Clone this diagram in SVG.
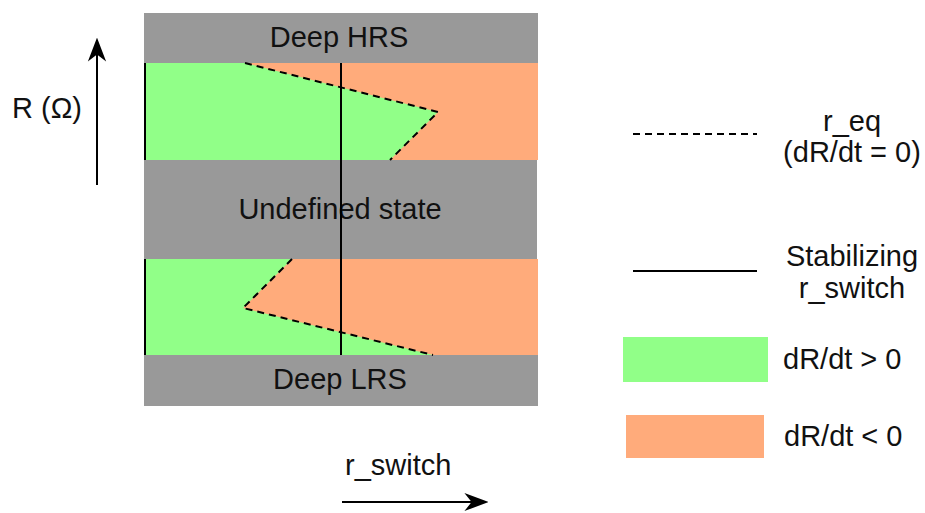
<svg xmlns="http://www.w3.org/2000/svg" width="925" height="513" viewBox="0 0 925 513">
  <defs>
    <style>
      .lbl { font-family: "Liberation Sans", Arial, sans-serif; font-size: 29px; fill: #111111; }
      .mid { text-anchor: middle; }
      .band { fill: #999999; }
      .up { fill: #91ff88; }
      .down { fill: #ffab7b; }
      .eq { fill: none; stroke: #000000; stroke-width: 2; stroke-dasharray: 7 5; }
      .sw { fill: none; stroke: #000000; stroke-width: 2; }
    </style>
    <marker id="head" viewBox="0 0 10 10" refX="9" refY="5" markerWidth="12" markerHeight="12" markerUnits="strokeWidth" orient="auto">
      <path d="M0,1.2 L10,5 L0,8.8 L3,5 Z" fill="#000000"/>
    </marker>
  </defs>

  <rect width="925" height="513" fill="#ffffff"/>

  <!-- state map -->
  <g id="upper-region">
    <rect x="144" y="63" width="394" height="97" class="down"/>
    <polygon points="144,63 245,63 438,112 390,160 144,160" class="up"/>
  </g>
  <g id="lower-region">
    <rect x="144" y="259" width="394" height="96" class="down"/>
    <polygon points="144,259 292,259 243,308 433,355 144,355" class="up"/>
  </g>
  <g id="deep-hrs">
    <rect x="144" y="13" width="394" height="50" class="band"/>
    <text x="339" y="47" class="lbl mid">Deep HRS</text>
  </g>
  <g id="undefined-state">
    <rect x="144" y="160" width="393" height="99" class="band"/>
    <text x="340" y="219" class="lbl mid">Undefined state</text>
  </g>
  <g id="deep-lrs">
    <rect x="144" y="355" width="394" height="51" class="band"/>
    <text x="340" y="389" class="lbl mid">Deep LRS</text>
  </g>

  <!-- equilibrium curves and switch lines -->
  <g id="connectors">
    <polyline points="245,63 438,112 390,160" class="eq"/>
    <polyline points="292,259 243,308 433,355" class="eq"/>
    <line x1="145" y1="63" x2="145" y2="160" class="sw"/>
    <line x1="145" y1="259" x2="145" y2="355" class="sw"/>
    <line x1="341" y1="63" x2="341" y2="355" class="sw"/>
    <line x1="97" y1="185" x2="97" y2="40" class="sw" marker-end="url(#head)"/>
    <line x1="342" y1="502" x2="486" y2="502" class="sw" marker-end="url(#head)"/>
  </g>

  <!-- axis labels -->
  <g id="axis-r">
    <text x="12" y="118" class="lbl">R (Ω)</text>
  </g>
  <g id="axis-rswitch">
    <text x="345" y="475" class="lbl">r_switch</text>
  </g>

  <!-- legend -->
  <g id="legend-eq">
    <line x1="633" y1="134" x2="757" y2="134" class="eq"/>
    <text x="852" y="131" class="lbl mid">r_eq</text>
    <text x="852" y="162" class="lbl mid">(dR/dt = 0)</text>
  </g>
  <g id="legend-switch">
    <line x1="633" y1="271" x2="757" y2="271" class="sw"/>
    <text x="852" y="266" class="lbl mid">Stabilizing</text>
    <text x="852" y="298" class="lbl mid">r_switch</text>
  </g>
  <g id="legend-up">
    <rect x="623" y="337" width="145" height="45" class="up"/>
    <text x="783" y="369" class="lbl">dR/dt &gt; 0</text>
  </g>
  <g id="legend-down">
    <rect x="626" y="415" width="138" height="43" class="down"/>
    <text x="784" y="446" class="lbl">dR/dt &lt; 0</text>
  </g>
</svg>
